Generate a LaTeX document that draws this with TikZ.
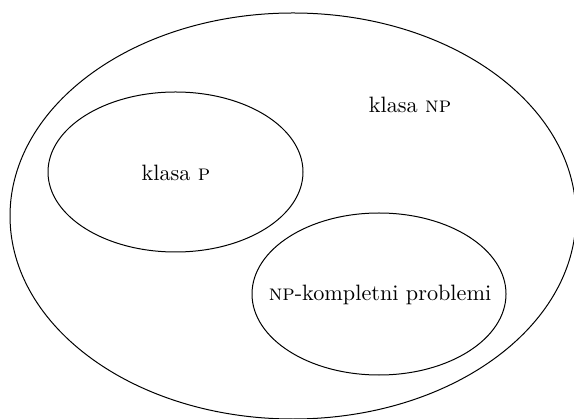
\documentclass[tikz,border=0pt]{standalone}
\begin{document}
\begin{tikzpicture}[x=0.45pt,y=-0.45pt,
  set/.style={draw=black,line width=0.45pt},
  lbl/.style={inner sep=0pt,font=\normalsize}]
\useasboundingbox (0,0) rectangle (574,419);
\begin{scope}
\clip (0,0) rectangle (574,419);
\draw[set] (293,216) ellipse [x radius=283, y radius=203];
\end{scope}
\draw[set] (175.5,172) ellipse [x radius=127.5, y radius=80];
\draw[set] (379,294) ellipse [x radius=127, y radius=81];
\node[lbl] (np) at (410,105) {klasa \textsc{np}};
\node[lbl] (p) at (176,173) {klasa \textsc{p}};
\node[lbl] (npc) at (380,295) {\textsc{np}-kompletni problemi};
\end{tikzpicture}
\end{document}
